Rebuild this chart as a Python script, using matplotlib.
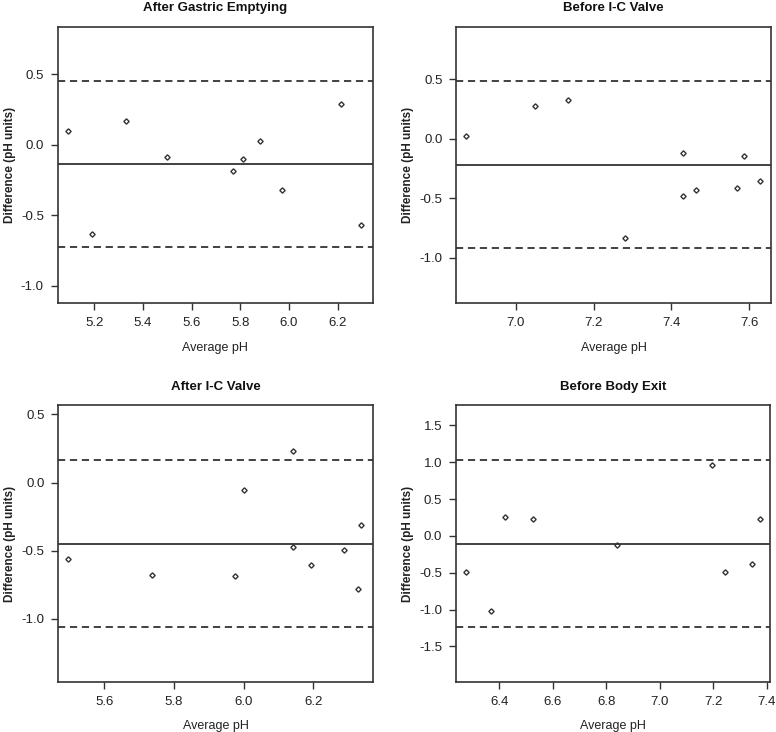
import matplotlib
matplotlib.use("Agg")
import matplotlib.pyplot as plt

plt.rcParams['font.family'] = ['Liberation Sans', 'DejaVu Sans']

# ---- data ----
titles = ["After Gastric Emptying", "Before I-C Valve", "After I-C Valve", "Before Body Exit"]

avg_ge = [5.093, 5.189, 5.329, 5.497, 5.771, 5.812, 5.879, 5.971, 6.215, 6.297]
diff_ge = [0.10, -0.631, 0.170, -0.087, -0.184, -0.104, 0.028, -0.324, 0.286, -0.567]

avg_bic = [6.874, 7.050, 7.135, 7.282, 7.430, 7.430, 7.464, 7.568, 7.585, 7.626]
diff_bic = [0.022, 0.272, 0.328, -0.832, -0.118, -0.482, -0.434, -0.415, -0.146, -0.353]

avg_aic = [5.497, 5.738, 5.974, 6.000, 6.140, 6.142, 6.193, 6.287, 6.328, 6.337]
diff_aic = [-0.557, -0.680, -0.687, -0.056, 0.230, -0.469, -0.606, -0.491, -0.778, -0.313]

avg_bbe = [6.277, 6.369, 6.422, 6.525, 6.839, 7.196, 7.242, 7.345, 7.374]
diff_bbe = [-0.489, -1.014, 0.262, 0.231, -0.127, 0.955, -0.489, -0.385, 0.231]

mean_diff = [-0.137, -0.221, -0.450, -0.109]
upper_loa = [0.456, 0.482, 0.166, 1.032]
lower_loa = [-0.728, -0.922, -1.059, -1.231]

xticks = [[5.2, 5.4, 5.6, 5.8, 6.0, 6.2],
          [7.0, 7.2, 7.4, 7.6],
          [5.6, 5.8, 6.0, 6.2],
          [6.4, 6.6, 6.8, 7.0, 7.2, 7.4]]
yticks = [[0.5, 0.0, -0.5, -1.0],
          [0.5, 0.0, -0.5, -1.0],
          [0.5, 0.0, -0.5, -1.0],
          [1.5, 1.0, 0.5, 0.0, -0.5, -1.0, -1.5]]
xlims = [(5.049, 6.344), (6.848, 7.656), (5.468, 6.370), (6.238, 7.412)]
ylims = [(-1.125, 0.838), (-1.384, 0.94), (-1.462, 0.566), (-1.984, 1.772)]

series = [(avg_ge, diff_ge), (avg_bic, diff_bic), (avg_aic, diff_aic), (avg_bbe, diff_bbe)]

W, H = 776, 732
fig = plt.figure(figsize=(W / 100, H / 100), dpi=100)

# axes boxes in pixels: left, top, right, bottom
boxes = [(57.7, 26.7, 372.7, 303.3),
         (456.3, 26.7, 771.3, 303.3),
         (58.3, 405.3, 372.7, 682.0),
         (456.0, 405.3, 770.0, 682.0)]
# x pixel of the y-label anchor for left / right column
ylab_x = [16.5, 414.5, 16.5, 414.5]

col = '#333333'
for i, (l, t, r, b) in enumerate(boxes):
    ax = fig.add_axes([l / W, 1 - b / H, (r - l) / W, (b - t) / H])
    x, y = series[i]
    ax.plot(x, y, linestyle='none', marker='D', markersize=2.7,
            markerfacecolor='none', markeredgecolor=col, markeredgewidth=1.0)
    ax.axhline(mean_diff[i], color=col, lw=1.3)
    ax.axhline(upper_loa[i], color=col, lw=1.3, linestyle=(0, (4, 2.6)))
    ax.axhline(lower_loa[i], color=col, lw=1.3, linestyle=(0, (4, 2.6)))
    ax.set_xlim(*xlims[i])
    ax.set_ylim(*ylims[i])
    ax.set_xticks(xticks[i])
    ax.set_xticklabels([f"{v:.1f}" for v in xticks[i]])
    ax.set_yticks(yticks[i])
    ax.set_yticklabels([f"{v:.1f}" for v in yticks[i]])
    ax.tick_params(direction='out', length=5, width=1, color=col,
                   labelsize=9.5, labelcolor='#222222', pad=5)
    for s in ax.spines.values():
        s.set_linewidth(1.2)
        s.set_color(col)
    ax.set_title(titles[i], fontsize=9.5, fontweight='bold', pad=11, color='#111111')
    ax.set_xlabel("Average pH", fontsize=9, labelpad=9, color='#222222')
    ax.set_ylabel("Difference (pH units)", fontsize=8.5, color='#222222', fontweight='bold')
    ax.yaxis.set_label_coords((ylab_x[i] - l) / (r - l), 0.5)

fig.savefig("out.png", dpi=100)
